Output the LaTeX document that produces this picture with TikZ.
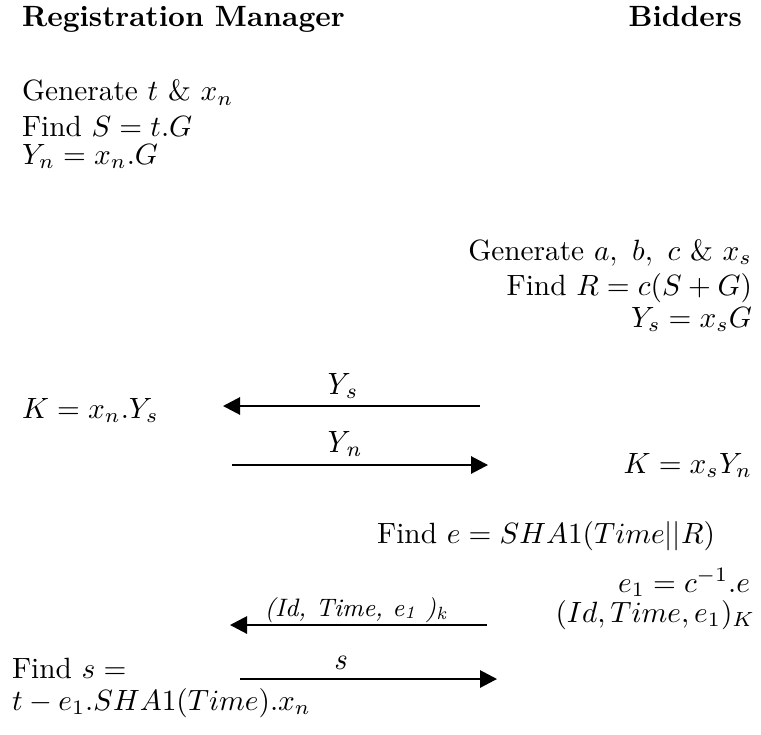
\documentclass[tikz,border=0pt]{standalone}
\usepackage{fontspec}
\usetikzlibrary{arrows.meta}
\begin{document}
\begin{tikzpicture}[x=0.341pt,y=-0.341pt,
  txt/.style={inner sep=0pt,outer sep=0pt},
  hdr/.style={txt,font=\bfseries},
  lab/.style={inner sep=0pt,font=\itshape\fontsize{10.5}{12}\selectfont,anchor=base},
  longlab/.style={lab,font=\itshape\fontsize{8.6}{10}\selectfont},
  msg/.style={line width=0.68pt,-{Triangle[length=5.8pt,width=5.9pt]}}]
\useasboundingbox (0,0) rectangle (761,734);
% headers
\node[hdr,anchor=base west] (rm) at (22,27) {Registration Manager};
\node[hdr,anchor=base east] (bd) at (742,27) {Bidders};
% registration manager block
\node[txt,anchor=base west] (l1) at (22,101) {Generate $t$ \& $x_n$};
\node[txt,anchor=base west] (l2) at (22,136) {Find $S = t.G$};
\node[txt,anchor=base west] (l3) at (22,164) {$Y_n = x_n.G$};
% bidder block
\node[txt,anchor=base east] (r1) at (752,260) {Generate $a,\ b,\ c$ \& $x_s$};
\node[txt,anchor=base east] (r2) at (752,295) {Find $R = c(S+G)$};
\node[txt,anchor=base east] (r3) at (752,327) {$Y_s = x_sG$};
% key exchange
\node[txt,anchor=base west] (k1) at (22,418) {$K = x_n.Y_s$};
\node[txt,anchor=base east] (k2) at (752,473) {$K = x_sY_n$};
\coordinate (a1s) at (480,406); \coordinate (a1e) at (223,406);
\coordinate (a2s) at (232,465); \coordinate (a2e) at (488,465);
\draw[msg] (a1s) -- (a1e);
\draw[msg] (a2s) -- (a2e);
\node[lab] (y1) at (340,394) {Y\textsubscript{s}};
\node[lab] (y2) at (342,452) {Y\textsubscript{n}};
% hashing
\node[txt,anchor=base east] (h1) at (715,543) {Find $e = SHA1(Time||R)$};
\node[txt,anchor=base east] (h2) at (750,592) {$e_1 = c^{-1}.e$};
\node[txt,anchor=base east] (h3) at (755,622) {$(Id, Time, e_1)_K$};
\coordinate (a3s) at (487,625); \coordinate (a3e) at (230,625);
\coordinate (a4s) at (240,679); \coordinate (a4e) at (497,679);
\draw[msg] (a3s) -- (a3e);
\draw[msg] (a4s) -- (a4e);
\node[longlab] (m3) at (356,616) {(Id, Time, e\textsubscript{1} )\textsubscript{k}};
\node[lab] (m4) at (340,669) {s};
% final
\node[txt,anchor=base west] (f1) at (12,678) {Find $s =$};
\node[txt,anchor=base west] (f2) at (12,710) {$t - e_1.SHA1(Time).x_n$};
\end{tikzpicture}
\end{document}
